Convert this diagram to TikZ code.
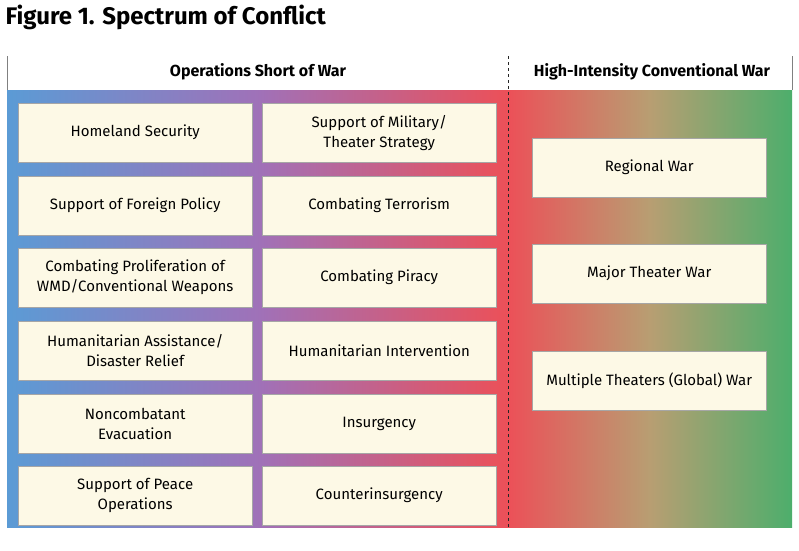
\documentclass[tikz,border=0pt]{standalone}
\usepackage{fontspec}
\setmainfont{Fira Sans}
\definecolor{cblue}{HTML}{5B9BD5}
\definecolor{cpurple}{HTML}{A071B8}
\definecolor{cred}{HTML}{EC5058}
\definecolor{ctan}{HTML}{B89E72}
\definecolor{cgreen}{HTML}{4DAE6C}
\definecolor{ccream}{HTML}{FDF9E6}
\begin{document}
\begin{tikzpicture}[x=1pt,y=-1pt,
  opbox/.style={draw=gray!70,fill=ccream,minimum width=234pt,minimum height=59pt,
    align=center,font=\fontsize{15}{20}\selectfont,anchor=north west},
  head/.style={font=\bfseries\fontsize{16}{19}\selectfont}]
\useasboundingbox (0,0) rectangle (799,550);

% title
\node[anchor=west,font=\bfseries\fontsize{24}{27}\selectfont] (title) at (2,17) {Figure 1. Spectrum of Conflict};

% gradient band
\shade[left color=cblue,right color=cpurple] (7,90) rectangle (260,527);
\shade[left color=cpurple,right color=cred] (259.5,90) rectangle (508,527);
\shade[left color=cred,right color=ctan] (507.5,90) rectangle (650,527);
\shade[left color=ctan,right color=cgreen] (649.5,90) rectangle (792,527);

% header
\draw[gray] (7,56) -- (7,90);
\draw[gray] (792,56) -- (792,90);
\draw[dashed,gray!30!black] (508,56) -- (508,527);
\node[head] (short) at (258,72) {Operations Short of War};
\node[head] (high) at (652,72) {High-Intensity Conventional War};

% operations short of war
\node[opbox] (hs)  at (18,103) {Homeland Security};
\node[opbox] (smt) at (262,103) {Support of Military/\\Theater Strategy};
\node[opbox] (sfp) at (18,176) {Support of Foreign Policy};
\node[opbox] (ct)  at (262,176) {Combating Terrorism};
\node[opbox] (cp)  at (18,248) {Combating Proliferation of\\WMD/Conventional Weapons};
\node[opbox] (cpi) at (262,248) {Combating Piracy};
\node[opbox] (ha)  at (18,321) {Humanitarian Assistance/\\Disaster Relief};
\node[opbox] (hi)  at (262,321) {Humanitarian Intervention};
\node[opbox] (ne)  at (18,394) {Noncombatant\\Evacuation};
\node[opbox] (ins) at (262,394) {Insurgency};
\node[opbox] (spo) at (18,466) {Support of Peace\\Operations};
\node[opbox] (coin) at (262,466) {Counterinsurgency};

% high-intensity war
\node[opbox] (rw)  at (532,138) {Regional War};
\node[opbox] (mtw) at (532,244) {Major Theater War};
\node[opbox] (mtg) at (532,351) {Multiple Theaters (Global) War};
\end{tikzpicture}
\end{document}
